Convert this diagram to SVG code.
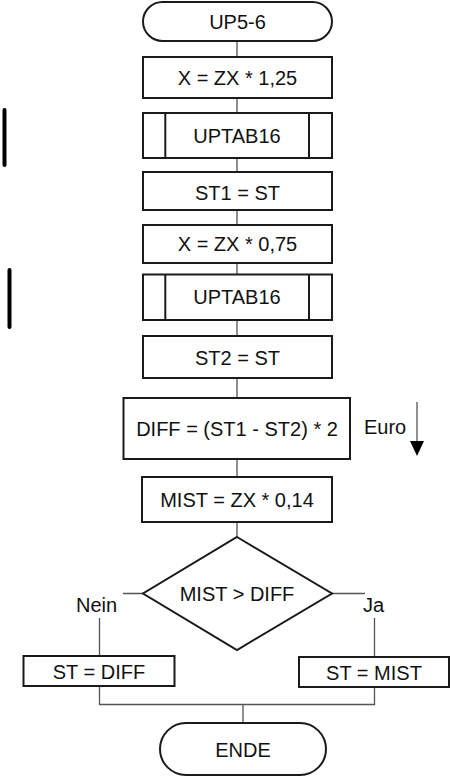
<svg xmlns="http://www.w3.org/2000/svg" width="450" height="776" viewBox="0 0 450 776">
  <style>
    .shape { fill: #ffffff; stroke: #1a1a1a; stroke-width: 2; }
    .conn { fill: none; stroke: #555555; stroke-width: 1.3; }
    .bar { stroke: #000000; stroke-width: 4; stroke-linecap: round; }
    text { font-family: "Liberation Sans", Arial, sans-serif; font-size: 20px; fill: #111111; text-anchor: middle; }
    .lbl { text-anchor: start; }
  </style>
  <rect width="450" height="776" fill="#ffffff"/>

  <!-- margin bars -->
  <line class="bar" x1="4.5" y1="110" x2="4.5" y2="165"/>
  <line class="bar" x1="9.5" y1="270" x2="9.5" y2="327"/>

  <g id="connectors">
    <path class="conn" d="M237 41V57 M237 98V113 M237 158V172 M237 210V225 M237 263V274 M237 320V336 M237 378V398 M237 459V477 M237 522V537"/>
    <path class="conn" d="M143 593.5H123 M332 593.5H365"/>
    <path class="conn" d="M99.5 618V656 M374.5 618V657"/>
    <path class="conn" d="M99.5 686V704.5H374.5V687 M243 704.5V723"/>
    <!-- Euro direction arrow -->
    <path class="conn" d="M417 402V442" stroke="#222"/>
    <polygon points="410,441 424,441 417,456" fill="#000"/>
  </g>

  <g id="start">
    <rect class="shape" x="143" y="2" width="189" height="39" rx="19.5"/>
    <text x="237.5" y="29">UP5-6</text>
  </g>
  <g id="x125">
    <rect class="shape" x="143" y="57" width="189" height="41"/>
    <text x="237.5" y="84.5">X = ZX * 1,25</text>
  </g>
  <g id="uptab1">
    <rect class="shape" x="143" y="113" width="189" height="45"/>
    <line class="shape" x1="165.3" y1="113" x2="165.3" y2="158"/>
    <line class="shape" x1="309" y1="113" x2="309" y2="158"/>
    <text x="237" y="143">UPTAB16</text>
  </g>
  <g id="st1">
    <rect class="shape" x="143" y="172" width="189" height="38"/>
    <text x="237.5" y="199.5">ST1 = ST</text>
  </g>
  <g id="x075">
    <rect class="shape" x="143" y="225" width="189" height="38"/>
    <text x="237.5" y="251">X = ZX * 0,75</text>
  </g>
  <g id="uptab2">
    <rect class="shape" x="143" y="274.5" width="189" height="45.5"/>
    <line class="shape" x1="165.3" y1="274.5" x2="165.3" y2="320"/>
    <line class="shape" x1="309" y1="274.5" x2="309" y2="320"/>
    <text x="237" y="304">UPTAB16</text>
  </g>
  <g id="st2">
    <rect class="shape" x="143" y="336" width="189" height="42"/>
    <text x="237.5" y="364.5">ST2 = ST</text>
  </g>
  <g id="diff">
    <rect class="shape" x="123.5" y="398" width="226.5" height="61"/>
    <text x="237" y="435.5">DIFF = (ST1 - ST2) * 2</text>
    <text class="lbl" x="364" y="433.5">Euro</text>
  </g>
  <g id="mist">
    <rect class="shape" x="142" y="477" width="190" height="45"/>
    <text x="237" y="507">MIST = ZX * 0,14</text>
  </g>
  <g id="decision">
    <polygon class="shape" points="237,537 332,593.5 237,650 143,593.5"/>
    <text x="237" y="601">MIST &gt; DIFF</text>
    <text class="lbl" x="76" y="611.5">Nein</text>
    <text class="lbl" x="363" y="611.5">Ja</text>
  </g>
  <g id="stdiff">
    <rect class="shape" x="23.5" y="656" width="151" height="30"/>
    <text x="99" y="678.5">ST = DIFF</text>
  </g>
  <g id="stmist">
    <rect class="shape" x="299" y="657" width="150" height="30"/>
    <text x="374" y="679.5">ST = MIST</text>
  </g>
  <g id="end">
    <rect class="shape" x="160" y="723" width="166" height="52" rx="26"/>
    <text x="243" y="757">ENDE</text>
  </g>
</svg>
